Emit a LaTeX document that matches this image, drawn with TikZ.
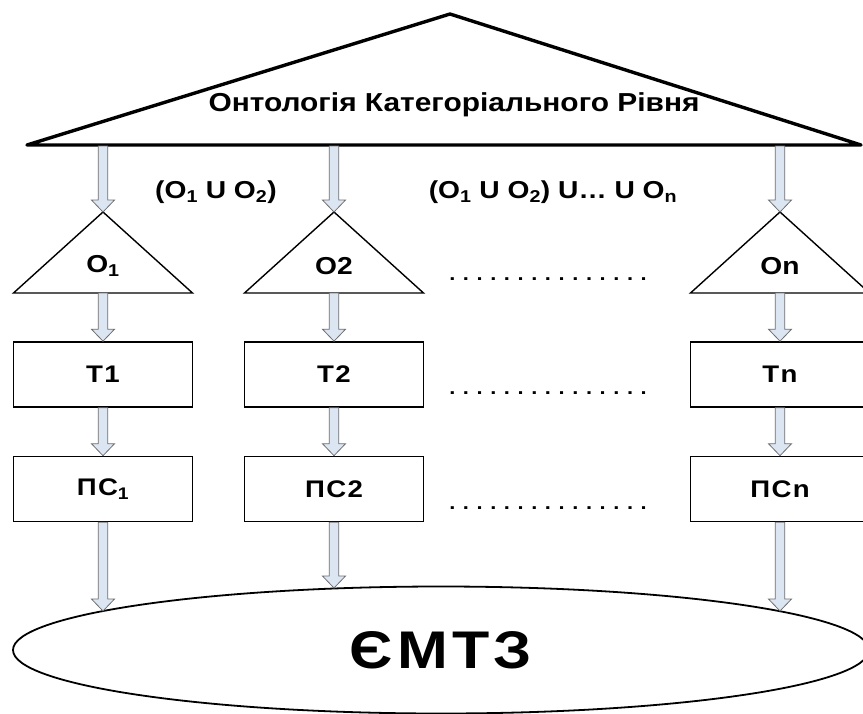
\documentclass[tikz,border=0pt]{standalone}
\usepackage{fontspec}
\setmainfont{Liberation Sans}[FakeStretch=1.15]
\newfontfamily\spacedfont{Liberation Sans}[FakeStretch=1.15,LetterSpace=6]
\newfontfamily\bigfont{Liberation Sans}[FakeStretch=1.15,LetterSpace=8]
\usetikzlibrary{shapes.geometric,calc}
\definecolor{arrfill}{HTML}{DCE6F2}
\definecolor{arrline}{HTML}{6F6F6F}
\tikzset{
  harrowstyle/.style={fill=arrfill,draw=arrline,line width=0.8pt,line join=miter},
  bigtri/.style={draw,line width=3.4pt,line join=round,line cap=round},
  smalltri/.style={draw,line width=1.4pt,line join=miter},
  lbl/.style={font=\fontsize{24.5}{26}\selectfont\bfseries,inner sep=0pt},
  boxnode/.style={draw,line width=1.6pt,minimum width=179pt,minimum height=65pt,inner sep=0pt,font=\fontsize{24}{26}\selectfont\bfseries\spacedfont},
  dotrow/.style={font=\fontsize{19}{20}\selectfont\bfseries,inner sep=0pt},
}
\newcommand\harrow[2]{%
  \path[harrowstyle] let \p1=(#1), \p2=(#2) in
    (\x1-4.8pt,\y1) -- (\x1-4.8pt,\y2+12pt) -- (\x1-11.5pt,\y2+12pt) -- (\x1,\y2)
    -- (\x1+11.5pt,\y2+12pt) -- (\x1+4.8pt,\y2+12pt) -- (\x1+4.8pt,\y1) -- cycle;}
\begin{document}
\begin{tikzpicture}[x=1pt,y=-1pt]
\clip (0,0) rectangle (863,713);
\fill[white] (0,0) rectangle (863,713);
% big triangle
\coordinate (bl) at (27,145);
\coordinate (apex) at (450,14);
\coordinate (br) at (861,145);
\draw[bigtri] (bl) -- (apex) -- (br) -- cycle;
\node[font=\fontsize{26}{28}\selectfont\bfseries,inner sep=0pt] (title) at (454,105) {Онтологія Категоріального Рівня};
% union labels
\node[lbl] (u1) at (216,192) {(O\textsubscript{1} U O\textsubscript{2})};
\node[lbl] (u2) at (553,192) {(O\textsubscript{1} U O\textsubscript{2}) U\dots\ U O\textsubscript{n}};
% columns
\foreach \k/\x/\lab/\tlab/\plab/\ey in {1/103/{O\textsubscript{1}}/T1/{ПС\textsubscript{1}}/611, 2/334/O2/T2/ПС2/588, 3/780/On/Tn/ПСn/611}{
  \coordinate (top\k) at (\x,146);
  \coordinate (ap\k) at (\x,212);
  \coordinate (bs\k) at (\x,293);
  \draw[smalltri] (\x-89.5,293) -- (ap\k) -- (\x+89.5,293) -- cycle;
  \node[lbl] (o\k) at (\x,266) {\lab};
  \node[boxnode] (t\k) at (\x,374.5) {\tlab};
  \node[boxnode] (p\k) at (\x,489) {\plab};
  \coordinate (e\k) at (\x,\ey);
}
% dot rows
\foreach \k/\y in {1/276,2/390,3/505}{
  \node[dotrow] (d\k) at (548,\y+3) {.\hspace{7.6pt}.\hspace{7.6pt}.\hspace{7.6pt}.\hspace{7.6pt}.\hspace{7.6pt}.\hspace{7.6pt}.\hspace{7.6pt}.\hspace{7.6pt}.\hspace{7.6pt}.\hspace{7.6pt}.\hspace{7.6pt}.\hspace{7.6pt}.\hspace{7.6pt}.\hspace{7.6pt}.};
}
% ellipse
\node[draw,ellipse,line width=1.8pt,minimum width=856pt,minimum height=127pt,inner sep=0pt,font=\fontsize{53}{56}\selectfont\bfseries\bigfont] (emtz) at (441,650) {ЄМТЗ};
% arrows
\foreach \k in {1,2,3}{
  \harrow{top\k}{ap\k}
  \harrow{bs\k}{t\k.north}
  \harrow{t\k.south}{p\k.north}
  \harrow{p\k.south}{e\k}
}
\end{tikzpicture}
\end{document}
